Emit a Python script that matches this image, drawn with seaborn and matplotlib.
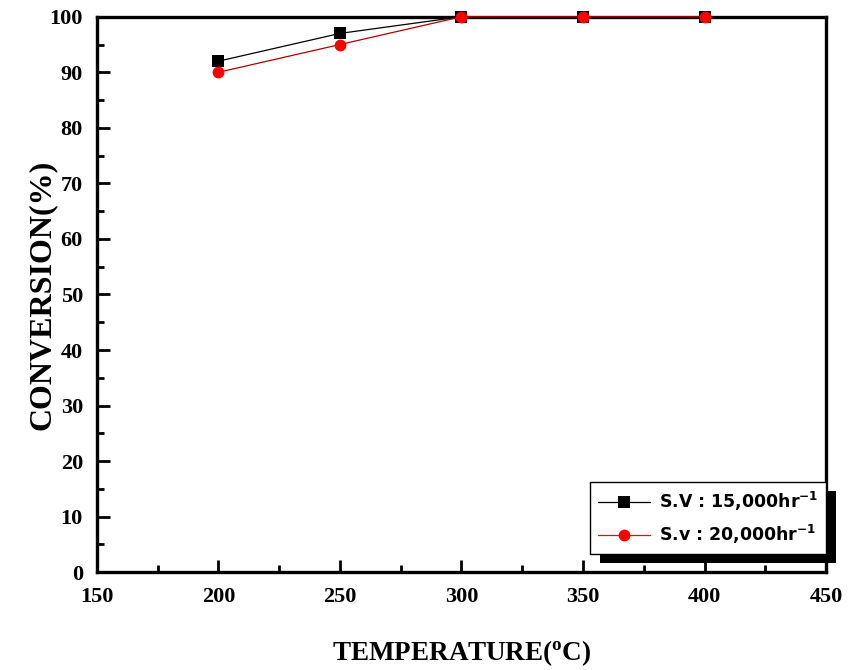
import seaborn as sns
import numpy as np
import pandas as pd
import matplotlib.pyplot as plt
from matplotlib.patches import Rectangle
from matplotlib.ticker import MultipleLocator

temperature = [200, 250, 300, 350, 400]
conv_15000 = [92, 97, 100, 100, 100]
conv_20000 = [90, 95, 100, 100, 100]
series_labels = [r'S.V : 15,000hr$^{-1}$', r'S.v : 20,000hr$^{-1}$']

df = pd.DataFrame({
    'temp': temperature * 2,
    'conv': conv_15000 + conv_20000,
    'series': [series_labels[0]] * len(temperature) + [series_labels[1]] * len(temperature),
})

sns.set_style('ticks')
plt.rcParams['font.family'] = ['Liberation Serif', 'DejaVu Serif']
plt.rcParams['font.weight'] = 'bold'
plt.rcParams['mathtext.default'] = 'regular'
for k in ['text.color', 'axes.labelcolor', 'xtick.color', 'ytick.color', 'axes.edgecolor']:
    plt.rcParams[k] = 'black'

fig = plt.figure(figsize=(8.65, 6.70), dpi=100)
ax = fig.add_axes([0.112, 0.146, 0.843, 0.829])

sns.lineplot(
    data=df, x='temp', y='conv', hue='series', style='series',
    markers=['s', 'o'], dashes=False, palette=['black', '#ff0000'],
    markersize=8.5, markeredgewidth=0, linewidth=0.9, ax=ax, legend=True,
)
for i, ln in enumerate(ax.lines):
    ln.set_clip_on(False)
    ln.set_zorder(3 + i)
# darker red connecting line, bright red markers (as in reference)
ax.lines[1].set_color('#b00000')
ax.lines[1].set_markerfacecolor('#ff0000')

ax.set_xlim(150, 450)
ax.set_ylim(0, 100)
ax.xaxis.set_major_locator(MultipleLocator(50))
ax.xaxis.set_minor_locator(MultipleLocator(25))
ax.yaxis.set_major_locator(MultipleLocator(10))
ax.yaxis.set_minor_locator(MultipleLocator(5))
ax.tick_params(which='both', direction='in', width=2, labelsize=16)
ax.tick_params(axis='x', which='both', pad=11)
ax.tick_params(axis='y', which='both', pad=10)
ax.tick_params(which='major', length=9)
ax.tick_params(which='minor', length=5)
for s in ax.spines.values():
    s.set_linewidth(2.4)
    s.set_visible(True)

ax.set_xlabel(r'TEMPERATURE($^{o}$C)', fontsize=19.5, fontweight='bold', labelpad=22)
ax.set_ylabel('CONVERSION(%)', fontsize=23, fontweight='bold', labelpad=-5)

handles, labels = ax.get_legend_handles_labels()
for h in handles:
    h.set_markersize(8.5)
leg = ax.legend(
    handles, labels, loc='lower right', bbox_to_anchor=(1.0, 0.033),
    frameon=True, fancybox=False, edgecolor='black', framealpha=1,
    prop={'family': 'DejaVu Sans', 'weight': 'bold', 'size': 12.5},
    handlelength=3.0, handletextpad=0.5, borderpad=0.45, labelspacing=0.55,
    borderaxespad=0,
)
leg.get_frame().set_linewidth(1.0)

# black drop shadow behind the legend box
fig.canvas.draw()
bb = leg.get_window_extent().transformed(fig.transFigure.inverted())
dx, dy = 10 / 865, 9 / 670
shadow = Rectangle((bb.x0 + dx, bb.y0 - dy), bb.width, bb.height,
                   transform=fig.transFigure, facecolor='black',
                   edgecolor='none', zorder=9)
fig.add_artist(shadow)
leg.remove()
leg.set_zorder(11)
fig.add_artist(leg)

fig.savefig('out.png', dpi=100)
